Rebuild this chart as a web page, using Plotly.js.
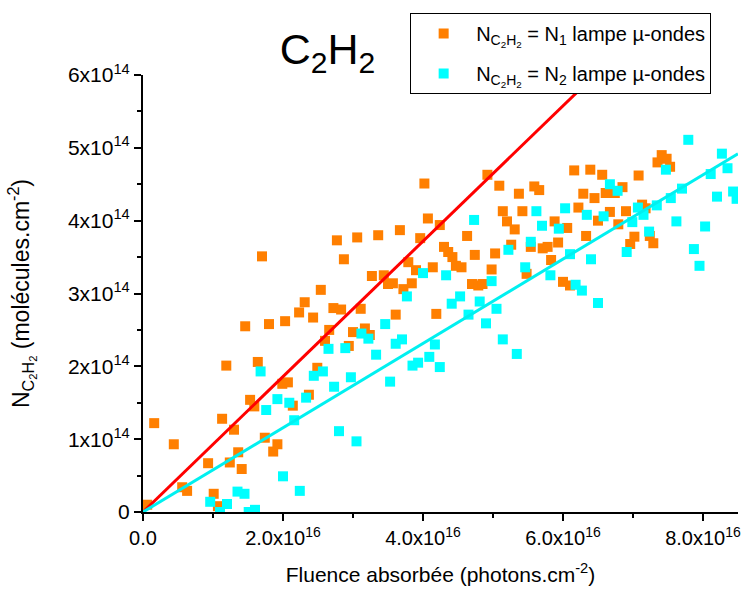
<!DOCTYPE html>
<html>
<head>
<meta charset="utf-8">
<script src="https://cdn.plot.ly/plotly-3.0.1.min.js"></script>
<style>
  html, body { margin: 0; padding: 0; background: #fff; }
  #chart { width: 747px; height: 594px; }
</style>
</head>
<body>
<div id="chart"></div>
<script>
// Units: fluence in 1e16 photons.cm-2, N in 1e14 molecules.cm-2
const X_UNIT = 1e16;
const Y_UNIT = 1e14;

// Series 1: N = N1, lampe micro-ondes (orange)
const fluence1 = [0.06,0.16,0.44,0.56,0.63,1.01,1.07,0.93,1.13,1.19,1.30,1.36,1.24,1.41,1.46,1.53,1.59,1.64,1.70,1.74,
  1.80,1.86,1.92,1.99,2.03,2.07,2.14,2.23,2.31,2.37,2.43,2.49,2.54,2.60,2.66,2.72,2.83,2.77,2.87,2.94,
  3.00,3.06,3.11,3.17,3.24,3.27,3.36,3.44,3.50,3.57,3.61,3.67,3.72,3.79,3.84,3.90,3.96,4.02,4.07,4.14,
  4.19,4.24,4.30,4.36,4.42,4.47,4.55,4.63,4.70,4.74,4.79,4.85,4.92,4.98,5.03,5.09,5.14,5.20,5.26,5.31,
  5.37,5.42,5.48,5.54,5.59,5.66,5.71,5.78,5.83,5.88,5.93,6.00,6.06,6.10,6.16,6.22,6.29,6.33,6.39,6.56,
  6.45,6.61,6.74,6.85,6.67,6.50,6.79,6.90,7.08,7.13,7.18,7.02,6.96,7.24,7.29,7.41,7.48,7.35,7.53];
const n1 = [0.10,1.22,0.93,0.34,0.29,0.25,0.08,0.67,1.28,2.01,1.13,0.82,0.68,0.59,2.55,1.54,1.45,2.06,3.51,1.02,
  2.58,0.83,0.93,1.76,2.62,1.78,1.46,2.74,2.88,1.61,2.67,1.98,3.05,2.35,2.50,2.80,2.78,3.73,3.47,2.28,
  2.47,3.77,2.79,2.52,2.43,3.24,3.80,3.25,3.13,3.14,2.71,3.87,3.06,3.43,3.14,3.32,3.76,4.51,4.03,3.36,
  2.72,3.94,3.64,3.57,3.50,3.38,3.36,3.79,3.13,3.53,3.11,3.13,4.63,3.33,3.55,4.48,4.13,3.99,3.67,3.88,
  4.37,4.13,3.27,3.64,4.47,4.42,3.62,3.64,3.46,3.99,3.70,3.16,3.90,3.11,4.69,4.18,4.37,3.79,4.70,4.63,
  4.31,4.38,4.38,4.46,4.12,4.00,3.95,4.13,4.62,4.22,4.17,3.78,3.68,3.79,3.69,4.90,4.85,4.80,4.74];

// Series 2: N = N2, lampe micro-ondes (cyan)
const fluence2 = [0.96,1.20,1.10,1.60,1.51,1.35,1.45,1.68,1.76,1.92,2.00,2.09,2.16,2.24,2.33,2.44,2.57,2.65,2.73,2.80,
  2.89,2.97,3.05,3.12,3.22,3.33,3.46,3.53,3.61,3.70,3.77,3.85,3.93,4.00,4.09,4.17,4.24,4.33,4.41,4.53,
  4.65,4.73,4.81,4.90,4.98,5.05,5.14,5.22,5.34,5.46,5.54,5.62,5.70,5.82,5.94,6.03,6.10,6.18,6.27,6.34,
  6.40,6.50,6.58,6.67,6.78,6.91,6.99,7.07,7.15,7.23,7.34,7.47,7.54,7.62,7.70,7.79,7.87,7.95,8.03,8.11,
  8.20,8.27,8.35,8.43,8.48];
const n2 = [0.14,0.11,0.00,0.03,0.00,0.28,0.25,1.93,1.40,1.55,0.49,1.50,1.26,0.29,1.57,1.87,1.93,2.24,1.72,1.11,
  2.25,1.85,0.97,2.45,2.38,2.16,2.58,1.79,2.31,2.37,2.96,2.01,2.05,3.28,2.13,2.30,1.99,3.25,2.86,2.96,
  2.71,4.01,2.89,2.59,3.17,2.79,2.37,3.60,2.17,3.36,3.71,4.13,3.93,3.25,3.89,4.17,3.54,3.12,3.04,4.08,
  3.47,2.87,4.06,4.50,4.41,3.57,3.98,4.18,4.08,3.85,4.21,4.70,4.31,3.99,4.44,5.11,3.61,3.38,3.92,4.64,
  4.33,4.92,4.72,4.40,4.30];

// Linear fits through origin (endpoints)
const fitFluence = [0, 8.5];
const fitN1 = [0, 7.9];
const fitN2 = [0, 4.92];

// Tick labels
const xTickVals = [0, 2, 4, 6, 8];
const xTickText = ["0.0", "2.0x10<sup>16</sup>", "4.0x10<sup>16</sup>", "6.0x10<sup>16</sup>", "8.0x10<sup>16</sup>"];
const yTickVals = [0, 1, 2, 3, 4, 5, 6];
const yTickText = ["0", "1x10<sup>14</sup>", "2x10<sup>14</sup>", "3x10<sup>14</sup>", "4x10<sup>14</sup>", "5x10<sup>14</sup>", "6x10<sup>14</sup>"];

const toX = a => a.map(v => v * X_UNIT);
const toY = a => a.map(v => v * Y_UNIT);

const FONT = "Liberation Sans, Arial, sans-serif";
const SUBN = "N<sub>C<sub>2</sub>H<sub>2</sub></sub>";

const traces = [
  { x: toX(fluence1), y: toY(n1), type: "scatter", mode: "markers", legendgroup: "a",
    name: SUBN + " = N<sub>1</sub> lampe µ-ondes",
    marker: { symbol: "square", size: 10, color: "#FF7F00", line: { width: 0 } } },
  { x: toX(fluence2), y: toY(n2), type: "scatter", mode: "markers", legendgroup: "b",
    name: SUBN + " = N<sub>2</sub> lampe µ-ondes",
    marker: { symbol: "square", size: 10, color: "#00FFFF", line: { width: 0 } } },
  { x: toX(fitFluence), y: toY(fitN1), type: "scatter", mode: "lines", showlegend: false,
    line: { color: "#FF0000", width: 3 } },
  { x: toX(fitFluence), y: toY(fitN2), type: "scatter", mode: "lines", showlegend: false,
    line: { color: "#00F0F0", width: 3 } }
];

const layout = {
  width: 747, height: 594,
  margin: { l: 143, r: 9, t: 75, b: 82 },
  paper_bgcolor: "#fff", plot_bgcolor: "#fff",
  font: { family: FONT, color: "#000", size: 20 },
  title: { text: "C<sub>2</sub>H<sub>2</sub>", font: { family: FONT, size: 43, color: "#000" },
    xref: "paper", x: 0.31, xanchor: "center", yref: "container", y: 0.918, yanchor: "middle" },
  xaxis: {
    range: [0, 8.5 * X_UNIT], tickmode: "array", tickvals: toX(xTickVals), ticktext: xTickText,
    showgrid: false, zeroline: false, showline: true, linecolor: "#000", linewidth: 2,
    ticks: "outside", ticklen: 7, tickwidth: 2, tickcolor: "#000",
    tickfont: { family: FONT, size: 20 },
    minor: { tickmode: "linear", tick0: 0, dtick: X_UNIT, ticks: "outside", ticklen: 4, tickwidth: 2, tickcolor: "#000", showgrid: false },
    title: { text: "Fluence absorbée (photons.cm<sup>-2</sup>)", font: { family: FONT, size: 21 }, standoff: 19 }
  },
  yaxis: {
    range: [0, 6 * Y_UNIT], tickmode: "array", tickvals: toY(yTickVals), ticktext: yTickText,
    showgrid: false, zeroline: false, showline: true, linecolor: "#000", linewidth: 2,
    ticks: "outside", ticklen: 7, tickwidth: 2, tickcolor: "#000",
    tickfont: { family: FONT, size: 21 },
    minor: { tickmode: "linear", tick0: 0, dtick: 0.5 * Y_UNIT, ticks: "outside", ticklen: 4, tickwidth: 2, tickcolor: "#000", showgrid: false },
    title: { text: SUBN + " (molécules.cm<sup>-2</sup>)", font: { family: FONT, size: 23 }, standoff: 32 }
  },
  showlegend: true,
  legend: {
    x: 0.449, y: 1.142, xanchor: "left", yanchor: "top",
    bgcolor: "#fff", bordercolor: "#000", borderwidth: 1,
    font: { family: FONT, size: 20, color: "#000" },
    itemwidth: 55, traceorder: "grouped", tracegroupgap: 11
  }
};

Plotly.newPlot("chart", traces, layout, { displayModeBar: false, staticPlot: true });
</script>
</body>
</html>
